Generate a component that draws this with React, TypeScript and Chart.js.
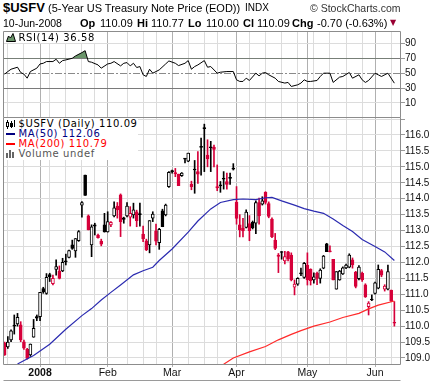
import React, { useEffect, useRef } from 'react';
import { Chart, registerables } from 'chart.js';

Chart.register(...registerables);

// ---------------- data ----------------
const DAYS_DEC_2007 = [14, 17, 18, 19, 20, 21, 24, 26, 27, 28, 31];
const DAYS_JAN_2008 = [2, 3, 4, 7, 8, 9, 10, 11, 14, 15, 16, 17, 18, 22, 23, 24, 25, 28, 29, 30, 31];
const DAYS_FEB_2008 = [1, 4, 5, 6, 7, 8, 11, 12, 13, 14, 15, 19, 20, 21, 22, 25, 26, 27, 28, 29];
const DAYS_MAR_2008 = [3, 4, 5, 6, 7, 10, 11, 12, 13, 14, 17, 18, 19, 20, 24, 25, 26, 27, 28, 31];
const DAYS_APR_2008 = [1, 2, 3, 4, 7, 8, 9, 10, 11, 14, 15, 16, 17, 18, 21, 22, 23, 24, 25, 28, 29, 30];
const DAYS_MAY_2008 = [1, 2, 5, 6, 7, 8, 9, 12, 13, 14, 15, 16, 19, 20, 21, 22, 23, 27, 28, 29, 30];
const DAYS_JUN_2008 = [2, 3, 4, 5, 6, 9, 10];

const MONTH_TICK_LABELS = ['2008', 'Feb', 'Mar', 'Apr', 'May', 'Jun'];

const OPEN = [
  109.47, 109.35, 109.57, 110.02, 110.07, 110.04, 109.51, 109.27, 109.10, 109.65,
  110.30, 110.30, 111.18, 111.03, 111.62, 111.33, 111.78, 111.73, 111.73, 112.05,
  112.16, 112.55, 112.36, 112.68, 113.80, 114.74, 113.46, 112.55, 113.18, 112.86,
  112.67, 113.18, 112.96, 113.18, 113.46, 113.77, 114.12, 113.40, 113.46, 113.42,
  113.49, 113.59, 113.53, 112.89, 112.68, 112.55, 113.39, 112.99, 112.62, 113.62,
  113.49, 114.38, 114.88, 114.82, 114.77, 114.72, 115.26, 115.18, 114.45, 114.92,
  114.85, 115.64, 116.23, 115.37, 115.63, 115.62, 114.38, 114.42, 114.64, 114.54,
  114.67, 114.95, 113.89, 113.18, 113.08, 113.10, 113.22, 113.26, 113.23, 113.88,
  113.83, 114.20, 113.85, 113.36, 112.70, 112.23, 112.33, 112.05, 112.33, 112.23,
  111.22, 111.32, 111.66, 111.53, 111.92, 111.78, 111.45, 111.66, 111.50, 111.82,
  112.58, 112.35, 112.10, 111.16, 111.45, 111.64, 111.83, 111.85, 112.08, 111.70,
  111.49, 111.66, 111.30, 110.61, 110.83, 111.03, 111.19, 111.74, 111.16, 111.16,
  111.13, 110.09,
];
const HIGH = [
  109.50, 109.67, 109.88, 110.35, 110.40, 110.14, 109.56, 109.30, 109.44, 110.21,
  110.35, 111.06, 111.22, 111.65, 111.66, 111.60, 112.08, 111.89, 112.13, 112.26,
  112.39, 112.70, 112.75, 113.00, 113.91, 114.74, 113.49, 113.18, 113.23, 112.89,
  112.73, 113.54, 113.59, 113.28, 113.90, 113.88, 114.15, 113.42, 113.88, 113.75,
  113.86, 113.64, 113.86, 113.14, 112.73, 113.31, 113.59, 113.20, 113.07, 113.67,
  113.83, 114.85, 114.90, 114.95, 114.77, 114.82, 115.27, 115.43, 114.55, 115.20,
  115.48, 115.90, 116.34, 115.85, 115.80, 115.68, 115.06, 114.54, 114.85, 114.80,
  114.80, 115.10, 114.38, 113.50, 113.38, 113.65, 113.47, 113.30, 113.93, 114.02,
  114.06, 114.22, 113.90, 113.40, 112.91, 112.28, 112.34, 112.35, 112.35, 112.30,
  111.45, 111.52, 111.82, 112.00, 112.30, 111.80, 111.67, 111.70, 111.80, 112.22,
  112.60, 112.52, 112.10, 111.71, 111.75, 111.86, 111.95, 112.27, 112.14, 111.72,
  111.90, 111.70, 111.33, 110.77, 110.98, 111.38, 111.92, 111.78, 111.30, 111.92,
  111.13, 110.77,
];
const LOW = [
  109.08, 109.30, 109.51, 109.75, 110.00, 109.51, 109.27, 108.96, 109.05, 109.65,
  110.17, 110.17, 111.03, 111.00, 111.40, 111.29, 111.60, 111.48, 111.71, 111.92,
  112.14, 112.41, 112.16, 112.66, 113.42, 114.10, 113.02, 112.18, 112.86, 112.76,
  112.52, 112.95, 112.95, 113.12, 113.43, 113.39, 112.81, 113.23, 113.43, 113.14,
  113.39, 113.12, 113.14, 112.65, 112.37, 112.30, 113.28, 112.55, 112.41, 113.12,
  113.46, 114.35, 114.80, 114.69, 114.41, 114.70, 115.12, 115.16, 114.28, 114.17,
  114.48, 114.74, 114.85, 115.00, 114.85, 115.00, 114.25, 114.20, 114.30, 114.30,
  114.45, 114.90, 113.20, 112.80, 112.80, 113.08, 112.68, 113.05, 112.90, 113.20,
  113.80, 113.83, 113.40, 112.78, 112.40, 111.68, 112.10, 111.95, 112.05, 111.42,
  110.98, 111.28, 111.58, 111.50, 111.29, 111.29, 111.35, 111.30, 111.35, 111.80,
  112.34, 112.33, 111.45, 111.16, 111.44, 111.62, 111.80, 111.83, 111.82, 111.20,
  111.45, 111.40, 110.90, 110.35, 110.80, 111.00, 111.17, 111.55, 111.10, 111.14,
  110.77, 110.00,
];
const CLOSE = [
  109.10, 109.50, 109.85, 110.00, 110.28, 109.57, 109.31, 108.99, 109.44, 109.93,
  110.25, 111.06, 111.07, 111.53, 111.55, 111.50, 111.87, 111.50, 112.00, 112.02,
  112.37, 112.44, 112.75, 112.97, 113.88, 114.10, 113.02, 113.12, 113.14, 112.78,
  112.57, 112.96, 113.28, 113.26, 113.71, 113.65, 113.28, 113.35, 113.77, 113.54,
  113.65, 113.31, 113.50, 112.74, 112.39, 113.31, 113.52, 112.67, 113.04, 113.12,
  113.80, 114.83, 114.85, 114.78, 114.41, 114.80, 115.24, 115.43, 114.38, 114.90,
  114.77, 115.61, 116.20, 115.25, 115.60, 115.55, 114.34, 114.40, 114.61, 114.45,
  114.64, 114.93, 113.38, 113.02, 112.99, 113.58, 113.00, 113.08, 113.88, 113.46,
  113.93, 113.88, 113.44, 112.81, 112.44, 112.19, 112.31, 112.18, 112.11, 111.45,
  111.32, 111.50, 111.64, 111.97, 111.45, 111.43, 111.55, 111.50, 111.76, 112.20,
  112.34, 112.33, 111.45, 111.71, 111.73, 111.83, 111.92, 112.23, 111.92, 111.25,
  111.85, 111.45, 110.92, 110.72, 110.82, 111.36, 111.78, 111.60, 111.26, 111.71,
  110.79, 110.09,
];

// moving averages at these bar positions
const MA50_AT = [4, 9, 14, 19, 24, 27, 30, 33, 36, 40, 43, 46, 48, 52, 57, 60, 64, 67, 71, 74, 78, 81, 83, 86, 90, 93, 96, 99, 102, 105, 108, 111, 115, 118, 121];
const MA50_VAL = [108.81, 109.08, 109.43, 109.9, 110.33, 110.55, 110.82, 111.06, 111.29, 111.61, 111.74, 111.85, 112.06, 112.42, 112.95, 113.3, 113.68, 113.88, 113.97, 113.99, 113.97, 114.03, 114.04, 113.93, 113.8, 113.69, 113.61, 113.54, 113.36, 113.16, 112.97, 112.72, 112.5, 112.33, 112.06];
const MA200_AT = [68, 71, 76, 81, 85, 89, 92, 96, 101, 105, 110, 113, 116, 121];
const MA200_VAL = [108.8, 109.0, 109.19, 109.36, 109.57, 109.74, 109.86, 110.0, 110.13, 110.27, 110.4, 110.54, 110.66, 110.79];

// RSI(14)
const RSI_AT = [0, 1, 2, 4, 5, 6, 7, 8, 10, 11, 12, 13, 15, 16, 17, 18, 19, 21, 22, 24, 25, 26, 27, 29, 30, 32, 33, 34, 36, 37, 38, 39, 40, 41, 42, 43, 44, 45, 46, 47, 48, 50, 51, 53, 54, 56, 57, 58, 59, 60, 62, 63, 64, 66, 67, 69, 71, 72, 73, 74, 75, 76, 78, 79, 80, 81, 82, 84, 85, 87, 88, 89, 91, 92, 93, 94, 95, 97, 98, 99, 101, 102, 104, 105, 107, 108, 110, 111, 112, 113, 115, 116, 117, 119, 121];
const RSI_VAL = [48.7, 52.2, 55.3, 58.0, 50.9, 48.7, 43.3, 52.2, 56.7, 62.4, 63.3, 65.6, 65.6, 68.7, 63.3, 66.9, 67.8, 70.0, 73.1, 77.6, 80.2, 65.6, 64.7, 61.1, 56.7, 62.4, 63.3, 65.6, 59.8, 63.3, 64.2, 59.8, 63.3, 57.6, 58.9, 47.8, 45.6, 55.3, 50.0, 52.2, 54.4, 62.4, 66.4, 63.3, 60.2, 63.3, 66.9, 55.3, 58.9, 61.1, 66.9, 58.0, 58.9, 50.0, 51.3, 52.2, 52.2, 41.1, 38.9, 38.9, 43.3, 40.2, 50.0, 46.4, 50.0, 50.9, 47.8, 43.3, 38.9, 36.7, 37.6, 32.2, 34.4, 36.7, 41.1, 38.9, 38.9, 40.2, 45.6, 50.0, 50.0, 37.6, 44.7, 45.6, 50.9, 43.3, 47.8, 41.1, 37.6, 40.2, 50.0, 47.8, 45.6, 50.0, 36.58];

const PRICE_TICKS = [109.0, 109.5, 110.0, 110.5, 111.0, 111.5, 112.0, 112.5, 113.0, 113.5, 114.0, 114.5, 115.0, 115.5, 116.0];
const PRICE_GRID_ONLY = [116.5];
const RSI_TICKS = [10, 30, 50, 70, 90];

// ---------------- derived tables ----------------
const SESSIONS: Date[] = [
  ...DAYS_DEC_2007.map((d) => new Date(2007, 11, d)),
  ...DAYS_JAN_2008.map((d) => new Date(2008, 0, d)),
  ...DAYS_FEB_2008.map((d) => new Date(2008, 1, d)),
  ...DAYS_MAR_2008.map((d) => new Date(2008, 2, d)),
  ...DAYS_APR_2008.map((d) => new Date(2008, 3, d)),
  ...DAYS_MAY_2008.map((d) => new Date(2008, 4, d)),
  ...DAYS_JUN_2008.map((d) => new Date(2008, 5, d)),
];
const MONTH_STARTS: number[] = [];
const WEEK_STARTS_RAW: number[] = [];
SESSIONS.forEach((d, i) => {
  if (i === 0) return;
  const p = SESSIONS[i - 1];
  if (d.getMonth() !== p.getMonth()) MONTH_STARTS.push(i);
  else if (d.getDay() < p.getDay()) WEEK_STARTS_RAW.push(i);
});
const WEEK_STARTS = WEEK_STARTS_RAW.filter((w) => MONTH_STARTS.every((m) => Math.abs(m - w) > 1));
const GRID_TICKS = [...MONTH_STARTS, ...WEEK_STARTS].sort((a, b) => a - b);

const X_MIN = -0.5;
const X_MAX = 123.06;

const FONT = "'Liberation Sans', Arial, Helvetica, sans-serif";
const LEG = "'DejaVu Sans', Verdana, sans-serif";
const RED = '#d6003a';
const BLACK = '#000000';
const MA50_COLOR = '#2b2bb0';
const MA200_COLOR = '#ff2a2a';
const MONTH_GRID = '#b0b0b0';
const WEEK_GRID = '#dcdcdc';
const H_GRID = '#dcdcdc';
const FRAME = '#8c8c8c';
const RSI_FILL = '#6a956a';

const tickValue = (c: any) => (c && c.tick ? c.tick.value : undefined);
const xGridColor = (c: any) => {
  const v = tickValue(c);
  if (MONTH_STARTS.includes(v)) return MONTH_GRID;
  if (WEEK_STARTS.includes(v)) return WEEK_GRID;
  return 'rgba(0,0,0,0)';
};
const monthLabel = (v: number) => {
  const k = MONTH_STARTS.indexOf(v);
  return k >= 0 ? MONTH_TICK_LABELS[k] : '';
};

function xScale(withLabels: boolean) {
  return {
    type: 'linear',
    min: X_MIN,
    max: X_MAX,
    offset: false,
    border: { display: false },
    grid: {
      offset: false,
      color: xGridColor,
      lineWidth: 1,
      drawTicks: withLabels,
      tickLength: 2,
      tickColor: (c: any) => (MONTH_STARTS.includes(tickValue(c)) ? MONTH_GRID : 'rgba(0,0,0,0)'),
    },
    ticks: {
      display: withLabels,
      autoSkip: false,
      maxRotation: 0,
      minRotation: 0,
      padding: 0,
      color: '#111',
      font: (c: any) => ({
        family: FONT,
        size: 10.5,
        weight: c && c.tick && c.tick.label === '2008' ? 'bold' : 'normal',
      }),
      callback: (v: number) => monthLabel(v),
    },
    afterBuildTicks: (s: any) => {
      s.ticks = GRID_TICKS.map((v) => ({ value: v }));
    },
    afterFit: (s: any) => {
      s.height = withLabels ? 17 : 2;
      s.paddingLeft = 0;
      s.paddingRight = 0;
    },
  };
}

function framePlugin(drawBottom: boolean, extraLine: boolean) {
  return {
    id: 'frame' + (drawBottom ? 'B' : '') + (extraLine ? 'E' : ''),
    afterDraw(chart: any) {
      const { ctx, chartArea: a } = chart;
      const l = Math.round(a.left) + 0.5;
      const r = Math.round(a.right) - 0.5;
      const t = Math.round(a.top) + 0.5;
      const b = Math.round(a.bottom) - 0.5;
      ctx.save();
      ctx.strokeStyle = FRAME;
      ctx.lineWidth = 1;
      ctx.beginPath();
      ctx.moveTo(l, b + (drawBottom ? 0 : 1));
      ctx.lineTo(l, t);
      ctx.lineTo(r, t);
      ctx.lineTo(r, b + (drawBottom ? 0 : 1));
      if (drawBottom) ctx.lineTo(l, b);
      ctx.stroke();
      if (extraLine) {
        const y = Math.round(a.bottom) + 15.5;
        ctx.strokeStyle = '#9a9a9a';
        ctx.beginPath();
        ctx.moveTo(l, y);
        ctx.lineTo(r, y);
        ctx.stroke();
      }
      ctx.restore();
    },
  };
}

function mainConfig(): any {
  const colors = CLOSE.map((c, i) => (c < (i ? CLOSE[i - 1] : OPEN[0]) ? RED : BLACK));
  const fills = CLOSE.map((c, i) => (c > OPEN[i] ? '#ffffff' : colors[i]));
  return {
    type: 'bar',
    data: {
      datasets: [
        {
          type: 'line',
          label: 'MA(50)',
          data: MA50_AT.map((x, k) => ({ x, y: MA50_VAL[k] })),
          borderColor: MA50_COLOR,
          borderWidth: 1.2,
          pointRadius: 0,
          fill: false,
          order: 0,
        },
        {
          type: 'line',
          label: 'MA(200)',
          data: MA200_AT.map((x, k) => ({ x, y: MA200_VAL[k] })),
          borderColor: MA200_COLOR,
          borderWidth: 1.2,
          pointRadius: 0,
          fill: false,
          order: 0,
        },
        {
          type: 'bar',
          label: 'body',
          data: OPEN.map((o, i) => ({ x: i, y: [Math.min(o, CLOSE[i]), Math.max(o, CLOSE[i])] })),
          backgroundColor: fills,
          borderColor: colors,
          borderWidth: 1,
          borderSkipped: false,
          barThickness: 3,
          minBarLength: 1,
          grouped: false,
          order: 1,
        },
        {
          type: 'bar',
          label: 'wick',
          data: OPEN.map((_, i) => ({ x: i, y: [LOW[i], HIGH[i]] })),
          backgroundColor: colors,
          barThickness: 1,
          minBarLength: 1,
          grouped: false,
          order: 2,
        },
      ],
    },
    options: {
      responsive: false,
      animation: false,
      events: [],
      layout: { padding: { left: 3, top: 4, right: 0, bottom: 0 } },
      plugins: { legend: { display: false }, tooltip: { enabled: false } },
      scales: {
        x: xScale(true),
        y: {
          type: 'linear',
          position: 'right',
          min: 108.78,
          max: 116.564,
          border: { display: false },
          grid: { color: H_GRID, lineWidth: 1, tickLength: 4, tickColor: '#999' },
          ticks: {
            padding: 0,
            color: '#111',
            font: { family: FONT, size: 10 },
            callback: (v: number) => (PRICE_TICKS.includes(v) ? v.toFixed(1) : ''),
          },
          afterBuildTicks: (s: any) => {
            s.ticks = [...PRICE_TICKS, ...PRICE_GRID_ONLY].map((v) => ({ value: v }));
          },
          afterFit: (s: any) => {
            s.width = 36;
            s.paddingTop = 0;
            s.paddingBottom = 0;
          },
        },
      },
    },
    plugins: [framePlugin(true, true)],
  };
}

function rsiConfig(): any {
  return {
    type: 'line',
    data: {
      datasets: [
        {
          label: 'RSI(14)',
          data: RSI_AT.map((x, k) => ({ x, y: RSI_VAL[k] })),
          borderColor: '#000',
          borderWidth: 1,
          pointRadius: 0,
          fill: { target: { value: 70 }, above: RSI_FILL, below: 'rgba(0,0,0,0)' },
        },
      ],
    },
    options: {
      responsive: false,
      animation: false,
      events: [],
      layout: { padding: { left: 3, top: 6, right: 0, bottom: 0 } },
      plugins: { legend: { display: false }, tooltip: { enabled: false } },
      scales: {
        x: xScale(false),
        y: {
          type: 'linear',
          position: 'right',
          min: -8.8,
          max: 106.6,
          border: {
            display: false,
            dash: (c: any) => (tickValue(c) === 50 ? [7, 2, 2, 2] : []),
          },
          grid: {
            lineWidth: 1,
            color: (c: any) => {
              const v = tickValue(c);
              if (v === 70 || v === 30) return '#7a7a7a';
              if (v === 50) return '#8a8a8a';
              return H_GRID;
            },
            tickLength: 4,
            tickColor: '#999',
          },
          ticks: { padding: 0, color: '#111', font: { family: FONT, size: 10 } },
          afterBuildTicks: (s: any) => {
            s.ticks = RSI_TICKS.map((v) => ({ value: v }));
          },
          afterFit: (s: any) => {
            s.width = 36;
            s.paddingTop = 0;
            s.paddingBottom = 0;
          },
        },
      },
    },
    plugins: [framePlugin(false, false)],
  };
}

// ---------------- text ----------------
const SYMBOL = '$USFV';
const NAME = '(5-Year US Treasury Note Price (EOD))';
const EXCHANGE = 'INDX';
const COPYRIGHT = '© StockCharts.com';
const DATE_TEXT = '10-Jun-2008';

function T(props: any) {
  const { x, base, size, bold, color, font, ls, children } = props;
  return (
    <div
      style={{
        position: 'absolute',
        left: x,
        top: base - 0.85 * size,
        fontSize: size,
        lineHeight: `${size}px`,
        fontWeight: bold ? 'bold' : 'normal',
        color: color || '#000',
        fontFamily: font || FONT,
        letterSpacing: ls ? `${ls}px` : undefined,
        whiteSpace: 'nowrap',
      }}
    >
      {children}
    </div>
  );
}

export default function App() {
  const mainRef = useRef<HTMLCanvasElement>(null);
  const rsiRef = useRef<HTMLCanvasElement>(null);

  useEffect(() => {
    const c1 = new Chart(mainRef.current as HTMLCanvasElement, mainConfig());
    const c2 = new Chart(rsiRef.current as HTMLCanvasElement, rsiConfig());
    return () => {
      c1.destroy();
      c2.destroy();
    };
  }, []);

  return (
    <div
      style={{
        position: 'absolute',
        left: 0,
        top: 0,
        width: 437,
        height: 382,
        background: '#fff',
        overflow: 'hidden',
        fontFamily: FONT,
      }}
    >
      <canvas ref={mainRef} width={437} height={269} style={{ position: 'absolute', left: 0, top: 113 }} />
      <canvas ref={rsiRef} width={437} height={94} style={{ position: 'absolute', left: 0, top: 25 }} />

      {/* header */}
      <T x={3} base={12} size={13} bold>{SYMBOL}</T>
      <T x={48} base={12} size={11}>{NAME}</T>
      <T x={245} base={11.5} size={10}>{EXCHANGE}</T>
      <T x={310} base={11.5} size={10.5} color="#333">{COPYRIGHT}</T>
      <T x={3} base={27} size={10.5}>{DATE_TEXT}</T>
      <T x={80} base={27} size={11} bold>Op</T>
      <T x={100} base={27} size={11}>110.09</T>
      <T x={137} base={27} size={11} bold>Hi</T>
      <T x={151} base={27} size={11}>110.77</T>
      <T x={188} base={27} size={11} bold>Lo</T>
      <T x={206} base={27} size={11}>110.00</T>
      <T x={243} base={27} size={11} bold>Cl</T>
      <T x={257} base={27} size={11}>110.09</T>
      <T x={292} base={27} size={11} bold>Chg</T>
      <T x={317} base={27} size={11}>-0.70 (-0.63%)</T>
      <T x={390} base={25.5} size={8} color="#990033" font={LEG}>▼</T>

      {/* RSI legend */}
      <div style={{ position: 'absolute', left: 4, top: 32, width: 96, height: 11, background: '#fff' }} />
      <svg style={{ position: 'absolute', left: 6, top: 33 }} width={10} height={9}>
        <polygon points="0.5,8.5 2.5,3 4.5,5 7,0.5 9.5,8.5" fill={RSI_FILL} stroke="#000" strokeWidth={1} />
      </svg>
      <T x={18.5} base={41} size={10} font={LEG} ls={0.6}>RSI(14) 36.58</T>

      {/* main legend */}
      <div style={{ position: 'absolute', left: 4, top: 118, width: 134, height: 42, background: '#fff' }} />
      <svg style={{ position: 'absolute', left: 6, top: 120 }} width={10} height={9}>
        <line x1={1.5} y1={0} x2={1.5} y2={9} stroke="#000" />
        <rect x={0.5} y={2.5} width={2} height={4} fill="#fff" stroke="#000" />
        <line x1={5.5} y1={1} x2={5.5} y2={8} stroke="#000" />
        <rect x={4.5} y={3.5} width={2} height={3} fill="#000" stroke="#000" />
        <line x1={8.5} y1={0} x2={8.5} y2={7} stroke="#000" />
      </svg>
      <T x={18.5} base={127.7} size={10} font={LEG} ls={0.6}>$USFV (Daily) 110.09</T>
      <div style={{ position: 'absolute', left: 6, top: 133, width: 9, height: 2, background: '#000080' }} />
      <T x={18.5} base={137.5} size={10} font={LEG} ls={0.6} color="#000080">MA(50) 112.06</T>
      <div style={{ position: 'absolute', left: 6, top: 143, width: 9, height: 2, background: '#ff0000' }} />
      <T x={18.5} base={147.3} size={10} font={LEG} ls={0.6} color="#ff0000">MA(200) 110.79</T>
      <svg style={{ position: 'absolute', left: 6, top: 150 }} width={10} height={8}>
        <rect x={0} y={3} width={2} height={5} fill="#666" />
        <rect x={3} y={0} width={2} height={8} fill="#666" />
        <rect x={6} y={2} width={2} height={6} fill="#666" />
      </svg>
      <T x={18.5} base={157.3} size={10} font={LEG} ls={0.6} color="#555">Volume undef</T>
    </div>
  );
}
